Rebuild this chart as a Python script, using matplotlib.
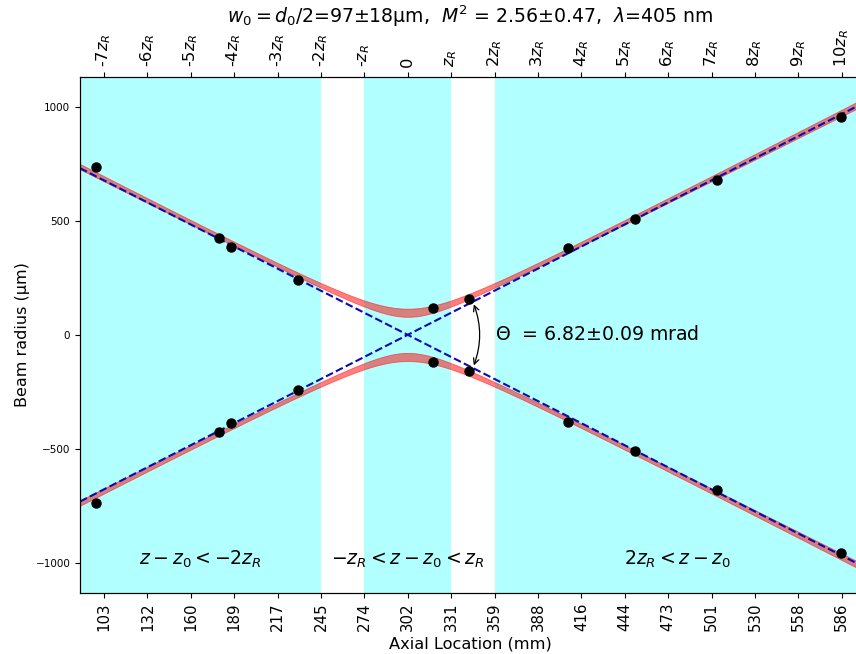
import numpy as np
import matplotlib
matplotlib.use("Agg")
import matplotlib.pyplot as plt

# measured beam radii (axial location in mm, radius in um)
z_mm = [97.9, 178.4, 186.3, 230.2, 318.6, 342.2, 407.0, 450.9, 504.6, 585.8]
r_um = [737, 426, 386, 241, 118, 158, 382, 509, 680, 957]

# fit results
d0 = 194.0          # um
d0_std = 36.0       # um
z0 = 302.25         # mm
zR = 28.42          # mm
theta = 6.82        # mrad
theta_std = 0.09    # mrad
M2 = 2.56
M2_std = 0.47
lambda0 = 405       # nm
zmin, zmax = -214.6, 296.5   # mm relative to z0

tick_idx = list(range(-7, 11))
bottom_labels = ["103", "132", "160", "189", "217", "245", "274", "302", "331",
                 "359", "388", "416", "444", "473", "501", "530", "558", "586"]
top_labels = ["-7$z_R$", "-6$z_R$", "-5$z_R$", "-4$z_R$", "-3$z_R$", "-2$z_R$",
              "-$z_R$", "0", "$z_R$", "2$z_R$", "3$z_R$", "4$z_R$", "5$z_R$",
              "6$z_R$", "7$z_R$", "8$z_R$", "9$z_R$", "10$z_R$"]

big = 13.6

fig = plt.figure(figsize=(8.56, 6.54), dpi=100)
ax1 = fig.add_axes([80 / 856, 61.3 / 654, 780.5 / 856, 515.7 / 654])

# shaded regions first
ax1.axvspan(-zR, zR, color="cyan", alpha=0.3, lw=0)
ax1.axvspan(2 * zR, 4000 * zR, color="cyan", alpha=0.3, lw=0)
ax1.axvspan(-4000 * zR, -2 * zR, color="cyan", alpha=0.3, lw=0)

z_fit = np.linspace(zmin, zmax, 200)
d_lo = np.sqrt((d0 - d0_std) ** 2 + ((theta - theta_std) * z_fit) ** 2)
d_hi = np.sqrt((d0 + d0_std) ** 2 + ((theta + theta_std) * z_fit) ** 2)

# asymptotes
slope = np.tan(theta / 2 * 1e-3) * 1e3
ax1.plot([zmin, zmax], [zmin * slope, zmax * slope], "--", color="#0a0ab4", lw=1.5)
ax1.plot([zmin, zmax], [-zmin * slope, -zmax * slope], "--", color="#0a0ab4", lw=1.5)

ax1.fill_between(z_fit, d_lo / 2, d_hi / 2, color="red", alpha=0.5, lw=0.6)
ax1.fill_between(z_fit, -d_lo / 2, -d_hi / 2, color="red", alpha=0.5, lw=0.6)

zz = np.array(z_mm) - z0
rr = np.array(r_um)
ax1.plot(zz, rr, "ok", ms=6.5)
ax1.plot(zz, -rr, "ok", ms=6.5)

s = r"$\Theta$  = %.2f±%.2f mrad" % (theta, theta_std)
ax1.text(2 * zR, 0, s, ha="left", va="center", fontsize=big)
arc_x = 1.5 * zR
arc_y = 1.5 * zR * slope
ax1.annotate("", (arc_x, -arc_y), (arc_x, arc_y),
             arrowprops=dict(arrowstyle="<->", connectionstyle="arc3, rad=-0.2",
                             lw=0.9))

ymin = -max(d_hi.max(), rr.max() * 2) / 2
ax1.text(0, ymin, "$-z_R<z-z_0<z_R$", ha="center", va="bottom", fontsize=big)
ax1.text((zmax + 2 * zR) / 2, ymin, "$2z_R < z-z_0$", ha="center", va="bottom", fontsize=big)
ax1.text((zmin - 2 * zR) / 2, ymin, "$z-z_0 < -2z_R$", ha="center", va="bottom", fontsize=big)

ax1.set_xlim(zmin, zmax)
ax1.set_ylim(-1132, 1132)
ticks = [i * zR for i in tick_idx]
ax1.set_xticks(ticks)
ax1.set_xticklabels(bottom_labels, fontsize=10.8, rotation=90)
ax1.tick_params(axis="y", labelsize=7.5)
ax1.set_yticks([-1000, -500, 0, 500, 1000])

ax2 = ax1.twiny()
ax2.set_xlim(ax1.get_xlim())
ax2.set_xticks(ticks)
ax2.set_xticklabels(top_labels, fontsize=11.7, rotation=90)

ax1.set_xlabel("Axial Location (mm)", fontsize=11.7)
ax1.set_ylabel("Beam radius (µm)", fontsize=11.5)
title = r"$w_0=d_0/2$=%.0f±%.0fµm,  " % (d0 / 2, d0_std / 2)
title += r"$M^2$ = %.2f±%.2f,  " % (M2, M2_std)
title += r"$\lambda$=%.0f nm" % lambda0
ax2.set_title(title, fontsize=big, pad=3)

fig.savefig("out.png", dpi=100)
